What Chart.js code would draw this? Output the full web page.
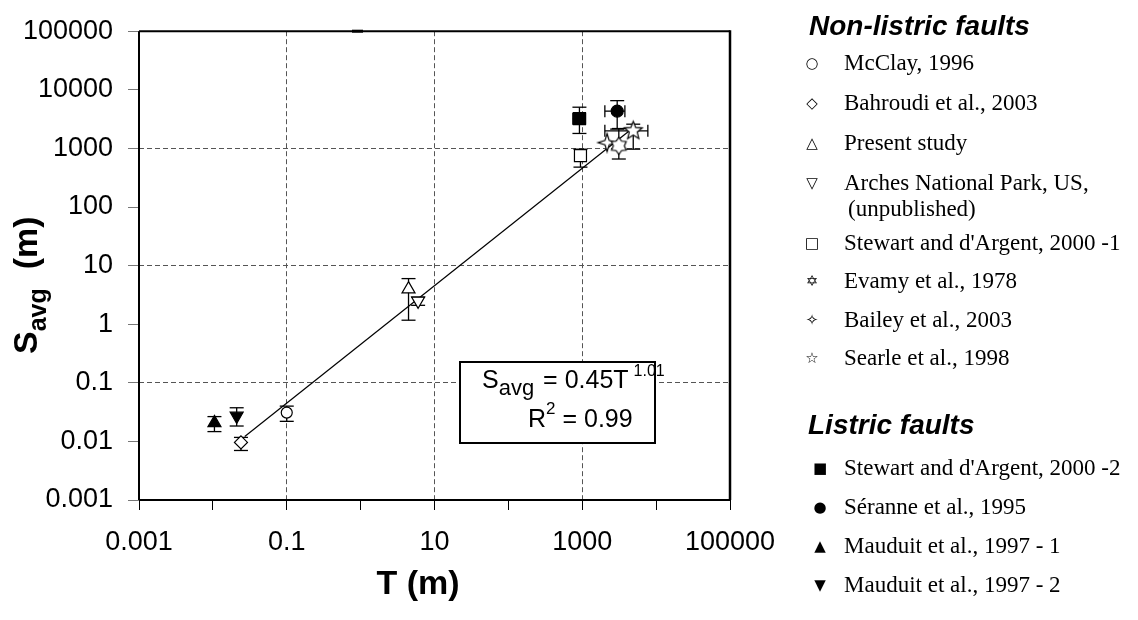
<!DOCTYPE html>
<html>
<head>
<meta charset="utf-8">
<script src="https://cdn.jsdelivr.net/npm/chart.js@4.4.0/dist/chart.umd.min.js"></script>
<style>
  html, body { margin: 0; padding: 0; background: #fff; }
  #wrap { position: relative; width: 1138px; height: 620px; }
  #chart { position: absolute; left: 0; top: 0; }
  #legend { position: absolute; left: 0; top: 0; width: 1138px; height: 620px; color: #000;
            font-family: "Liberation Serif", "Times New Roman", serif; font-size: 23px; }
  .hdr { position: absolute; font-family: "Liberation Sans", Arial, sans-serif; font-weight: bold;
         font-style: italic; font-size: 28px; line-height: 30px; white-space: nowrap; }
  .sym { position: absolute; width: 24px; text-align: center; font-family: "DejaVu Sans", sans-serif;
         font-size: 15px; line-height: 24px; }
  .lbl { position: absolute; white-space: nowrap; line-height: 26px; }
</style>
</head>
<body>
<div id="wrap">
  <canvas id="chart" width="1138" height="620"></canvas>
  <div id="legend"></div>
</div>
<script>
// --- data (T and S_avg in metres) ---
const seriesNames = [
    "McClay, 1996", "Bahroudi et al., 2003", "Present study", "Arches National Park, US,|(unpublished)",
    "Stewart and d'Argent, 2000 -1", "Evamy et al., 1978", "Bailey et al., 2003", "Searle et al., 1998",
    "Stewart and d'Argent, 2000 -2", "Séranne et al., 1995", "Mauduit et al., 1997 - 1", "Mauduit et al., 1997 - 2"
];
const seriesGroup = ["non", "non", "non", "non", "non", "non", "non", "non", "lis", "lis", "lis", "lis"];
const tValues = [0.1, 0.024, 4.45, 6.0, 946, 3126, 2170, 4900, 916, 2972, 0.0105, 0.021];
const sValues = [0.031, 0.0096, 3.97, 2.5, 751, 1107, 1256, 1995, 3215, 4325, 0.0207, 0.0272];
const sErrLow = [0.022, 0.0070, 1.17, 2.1, 479, 659, null, 970, 1799, 2133, 0.0147, 0.0183];
const sErrHigh = [0.040, 0.0117, 6.0, 2.9, 970, 2183, null, 2589, 5047, 6531, 0.0265, 0.0375];
const tErrLow = [null, null, null, null, null, null, null, 2023, 746, 2023, null, null];
const tErrHigh = [null, null, null, null, null, null, null, 7727, 1109, 3777, null, null];

const fitT = [0.027, 4800];
const fitS = [0.0121, 2200];

const decades = [0.001, 0.01, 0.1, 1, 10, 100, 1000, 10000, 100000];
const xTickLabels = ["0.001", "", "0.1", "", "10", "", "1000", "", "100000"];
const yTickLabels = ["0.001", "0.01", "0.1", "1", "10", "100", "1000", "10000", "100000"];
const gridValues = [0.1, 10, 1000];

// --- marker shapes ---
function starImage(n, outer, inner, rot) {
    const size = Math.ceil(outer * 2 + 4);
    const c = document.createElement("canvas");
    c.width = c.height = size;
    const g = c.getContext("2d");
    g.translate(size / 2, size / 2);
    g.beginPath();
    for (let k = 0; k < n * 2; k++) {
        const r = k % 2 ? inner : outer;
        const a = -Math.PI / 2 + k * Math.PI / n + rot;
        g.lineTo(r * Math.cos(a), r * Math.sin(a));
    }
    g.closePath();
    g.fillStyle = "#fff";
    g.fill();
    g.strokeStyle = "#000";
    g.lineWidth = 1.2;
    g.stroke();
    return c;
}

const markers = [
    { style: "circle", r: 5.5, fill: "#fff" },
    { style: "rectRot", r: 6.5, fill: "#fff" },
    { style: "triangle", r: 7.5, fill: "#fff" },
    { style: "triangle", r: 7.5, fill: "#fff", rot: 180 },
    { style: "rect", r: 8.5, fill: "#fff" },
    { style: starImage(6, 8.5, 5.5, 0), r: 8, fill: "#fff" },
    { style: starImage(4, 9, 3, 0), r: 8, fill: "#fff" },
    { style: starImage(5, 9.5, 4.2, 0), r: 8, fill: "#fff" },
    { style: "rect", r: 8.5, fill: "#000" },
    { style: "circle", r: 6, fill: "#000" },
    { style: "triangle", r: 7.5, fill: "#000" },
    { style: "triangle", r: 7.5, fill: "#000", rot: 180 }
];
const legendGlyphs = ["○", "◇", "△", "▽", "□", "✡", "✧", "☆", "■", "●", "▲", "▼"];

// --- plugins ---
const errorBars = {
    id: "errorBars",
    beforeDatasetsDraw(chart) {
        const { ctx, scales: { x, y } } = chart;
        const seg = (a, b, c, d) => { ctx.beginPath(); ctx.moveTo(a, b); ctx.lineTo(c, d); ctx.stroke(); };
        ctx.save();
        ctx.strokeStyle = "#000";
        ctx.lineWidth = 1.3;
        tValues.forEach((t, i) => {
            const px = x.getPixelForValue(t), py = y.getPixelForValue(sValues[i]);
            if (sErrLow[i] != null) {
                const y1 = y.getPixelForValue(sErrLow[i]), y2 = y.getPixelForValue(sErrHigh[i]);
                seg(px, y1, px, y2);
                seg(px - 7, y1, px + 7, y1);
                seg(px - 7, y2, px + 7, y2);
            }
            if (tErrLow[i] != null) {
                const x1 = x.getPixelForValue(tErrLow[i]), x2 = x.getPixelForValue(tErrHigh[i]);
                seg(x1, py, x2, py);
                seg(x1, py - 6, x1, py + 6);
                seg(x2, py - 6, x2, py + 6);
            }
        });
        ctx.restore();
    }
};

const decorations = {
    id: "decorations",
    afterDraw(chart) {
        const { ctx, chartArea: a } = chart;
        ctx.save();
        // plot frame
        ctx.strokeStyle = "#000";
        ctx.lineWidth = 2;
        ctx.beginPath();
        ctx.moveTo(a.left, a.top); ctx.lineTo(a.right, a.top);
        ctx.moveTo(a.left, a.top); ctx.lineTo(a.left, a.bottom);
        ctx.moveTo(a.left, a.bottom); ctx.lineTo(a.right, a.bottom);
        ctx.stroke();
        ctx.lineWidth = 2.5;
        ctx.beginPath();
        ctx.moveTo(a.right, a.top - 1); ctx.lineTo(a.right, a.bottom);
        ctx.stroke();
        ctx.fillStyle = "#000";
        ctx.fillRect(352, a.top - 1.5, 11, 3);

        // equation box
        ctx.fillStyle = "#fff";
        ctx.fillRect(460, 362, 195, 81);
        ctx.lineWidth = 2;
        ctx.strokeRect(460, 362, 195, 81);
        ctx.fillStyle = "#000";
        ctx.textBaseline = "alphabetic";
        const sans = "\"Liberation Sans\", Arial, sans-serif";
        let cx = 482;
        const put = (txt, size, dy, weight) => {
            ctx.font = (weight || "") + " " + size + "px " + sans;
            ctx.fillText(txt, cx, dy);
            cx += ctx.measureText(txt).width;
        };
        put("S", 25, 388);
        put("avg", 22, 395);
        cx += 2;
        put(" = 0.45T", 25, 388);
        cx += 5;
        put("1.01", 16, 376);
        cx = 528;
        put("R", 25, 427);
        put("2", 17, 414);
        put(" = 0.99", 25, 427);

        // axis titles
        cx = 0;
        ctx.save();
        ctx.translate(37, 354);
        ctx.rotate(-Math.PI / 2);
        put("S", 34, 0, "bold");
        put("avg", 25, 9, "bold");
        put("  (m)", 34, 0, "bold");
        ctx.restore();

        ctx.font = "bold 34px " + sans;
        ctx.textAlign = "center";
        ctx.fillText("T (m)", 418, 594);
        ctx.restore();
    }
};

// --- datasets ---
const datasets = seriesNames.map((name, i) => ({
    label: name.replace("|", " "),
    data: [{ x: tValues[i], y: sValues[i] }],
    pointStyle: markers[i].style,
    pointRadius: markers[i].r,
    pointRotation: markers[i].rot || 0,
    pointBackgroundColor: markers[i].fill,
    pointBorderColor: "#000",
    pointBorderWidth: 1.2,
    order: 1
}));
datasets.push({
    label: "fit",
    data: fitT.map((t, i) => ({ x: t, y: fitS[i] })),
    showLine: true,
    borderColor: "#000",
    borderWidth: 1.2,
    pointRadius: 0,
    order: 5
});

const sansFont = { family: "\"Liberation Sans\", Arial, sans-serif", size: 27 };

new Chart(document.getElementById("chart"), {
    type: "scatter",
    data: { datasets },
    options: {
        responsive: false,
        animation: false,
        events: [],
        layout: { padding: { top: 23, right: 408, left: 0, bottom: 0 } },
        plugins: { legend: { display: false }, tooltip: { enabled: false } },
        scales: {
            x: {
                type: "logarithmic",
                min: 0.001, max: 100000,
                afterBuildTicks: s => { s.ticks = decades.map(v => ({ value: v })); },
                afterFit: s => { s.height = 120; },
                ticks: {
                    autoSkip: false, maxRotation: 0, padding: 16, color: "#000", font: sansFont,
                    callback: (v, i) => xTickLabels[i]
                },
                grid: {
                    color: c => gridValues.includes(c.tick && c.tick.value) ? "#555" : "rgba(0,0,0,0)",
                    lineWidth: 1, tickColor: "#000", tickLength: 10, tickWidth: 1
                },
                border: { display: false, dash: [5, 3] }
            },
            y: {
                type: "logarithmic",
                min: 0.001, max: 100000,
                afterBuildTicks: s => { s.ticks = decades.map(v => ({ value: v })); },
                afterFit: s => { s.width = 139; },
                ticks: {
                    autoSkip: false, padding: 15, color: "#000", font: sansFont,
                    callback: (v, i) => yTickLabels[i]
                },
                grid: {
                    color: c => gridValues.includes(c.tick && c.tick.value) ? "#555" : "rgba(0,0,0,0)",
                    lineWidth: 1, tickColor: "#777", tickLength: 11, tickWidth: 1
                },
                border: { display: false, dash: [5, 3] }
            }
        }
    },
    plugins: [errorBars, decorations]
});

// --- legend (HTML, built from the series names) ---
function renderLegend() {
    const box = document.getElementById("legend");
    const rowY = [63, 103, 143, 183, 243, 281, 320, 358, 468, 507, 546, 585];
    let html = `<div class="hdr" style="left:809px;top:${26 - 15}px">Non-listric faults</div>`;
    html += `<div class="hdr" style="left:808px;top:${425 - 15}px">Listric faults</div>`;
    seriesNames.forEach((name, i) => {
        const symX = seriesGroup[i] === "lis" ? 820 : 812;
        const parts = name.split("|");
        html += `<div class="sym" style="left:${symX - 12}px;top:${rowY[i] - 12}px">${legendGlyphs[i]}</div>`;
        html += `<div class="lbl" style="left:844px;top:${rowY[i] - 13}px">${parts[0]}</div>`;
        if (parts[1]) html += `<div class="lbl" style="left:848px;top:${rowY[i] + 26 - 13}px">${parts[1]}</div>`;
    });
    box.innerHTML = html;
}
renderLegend();
</script>
</body>
</html>
